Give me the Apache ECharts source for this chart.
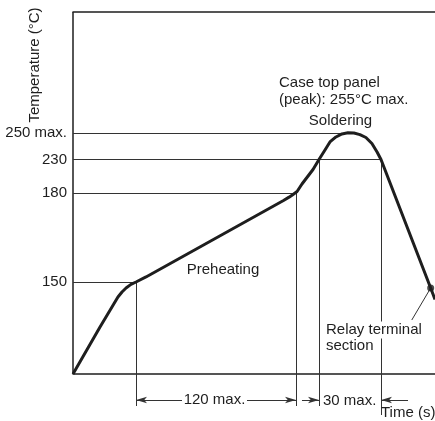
<!DOCTYPE html>
<html><head><meta charset="utf-8">
<script src="https://cdn.jsdelivr.net/npm/echarts@6/dist/echarts.min.js"></script>
<style>html,body{margin:0;padding:0;background:#fff}#c{width:435px;height:421px}</style>
</head><body><div id="c"></div>
<script>
// ---------------- data (seconds, °C) ----------------
const profileTime = [0, 19.3, 32.1, 35.0, 37.9, 41.4, 45, 52.5, 155.3, 159.8, 162.8, 165.7, 168.9, 176.1, 180, 182.9, 185.3, 188.2, 191.1, 194.0, 196.9, 199.8, 202.7, 205.6, 208.1, 210, 237.6, 240];
const profileTemp = [0, 76.6, 125.5, 133.7, 140.2, 146.2, 150, 151.7, 177.4, 178.6, 179.5, 182.2, 193.4, 215.1, 230, 237.3, 243.4, 247.2, 249.5, 250.2, 250.1, 249.0, 246.8, 242.2, 235.7, 230, 140.2, 121.5];
const tickTemps = [150, 180, 230, 250];
const tickLabels = ['150', '180', '230', '250 max.'];
const preheatStart = 45, preheatEnd = 165;   // 120 max.
const solderStart = 180, solderEnd = 210;    // 30 max.
const peakTime = 191;
const relayPoint = [237.6, 140.2];

// ---------------- schematic (non-linear) axis scales ----------------
const timeKnots = [0, 45, 165, 180, 210, 240];
const timeScale = [0, 63, 223, 246, 308, 362];
const tempKnots = [0, 150, 180, 230, 250, 300];
const tempScale = [0, 92, 181, 214.5, 240.7, 362];
function warp(v, ks, ss) {
  let i = 0;
  while (i < ks.length - 2 && v > ks[i + 1]) i++;
  return ss[i] + (v - ks[i]) * (ss[i + 1] - ss[i]) / (ks[i + 1] - ks[i]);
}
const X = t => warp(t, timeKnots, timeScale);
const Y = T => warp(T, tempKnots, tempScale);
const P = (t, T) => [X(t), Y(T)];

// annotation layout (axis scale units; negative = below the time axis)
const yMin = -47, yMax = 362;
const extLevel = -32, extLevelLong = -41, dimLevel = -26;
const relayLeaderEnd = [227.1, 88.0];
const dim120Gap = [79.5, 128.25];
const dim30Out = [168.9, 225];

const ink = '#1e1e1e';
const font = '"Liberation Sans", Arial, Helvetica, sans-serif';

function seg(a, b, sa, sb) {
  return [{coord: a, symbol: sa || 'none'}, {coord: b, symbol: sb || 'none'}];
}

const frame = [
  [{coord: [0, 0], symbol: 'none'}, {coord: [0, yMax], symbol: 'none'}]
];
const guides = [
  seg(P(0, 250), P(peakTime, 250)),
  seg(P(0, 230), P(solderEnd, 230)),
  seg(P(0, 180), P(preheatEnd, 180)),
  seg(P(0, 150), P(preheatStart, 150)),
  seg(P(preheatStart, 150), [X(preheatStart), extLevel]),
  seg(P(preheatEnd, 180), [X(preheatEnd), extLevel]),
  seg(P(solderStart, 230), [X(solderStart), extLevel]),
  seg(P(solderEnd, 230), [X(solderEnd), extLevelLong]),
  seg(P(relayPoint[0], relayPoint[1]), P(relayLeaderEnd[0], relayLeaderEnd[1])),
  seg([X(preheatStart), dimLevel], [X(dim120Gap[0]), dimLevel], 'arrow', 'none'),
  seg([X(dim120Gap[1]), dimLevel], [X(preheatEnd), dimLevel], 'none', 'arrow'),
  seg([X(dim30Out[0]), dimLevel], [X(solderStart), dimLevel], 'none', 'arrow'),
  seg([X(dim30Out[1]), dimLevel], [X(solderEnd), dimLevel], 'none', 'arrow')
];

const chart = echarts.init(document.getElementById('c'), null, {renderer: 'canvas'});
const txt = (text, x, y, align, extra, styleExtra) => Object.assign({
  type: 'text', x: x, y: y, z: 10,
  style: Object.assign({text: text, fill: ink, font: '15px ' + font, align: align || 'left', verticalAlign: 'middle'}, styleExtra || {})
}, extra || {});

chart.setOption({
  animation: false,
  grid: {left: 73, right: 0, top: 12, bottom: 0},
  xAxis: [
    {type: 'value', min: 0, max: 362, position: 'bottom',
     axisLine: {show: true, onZero: true, lineStyle: {color: ink, width: 1.5}},
     axisTick: {show: false}, axisLabel: {show: false}, splitLine: {show: false}},
    {type: 'value', min: 0, max: 362, position: 'top',
     axisLine: {show: true, onZero: false, lineStyle: {color: ink, width: 1.5}},
     axisTick: {show: false}, axisLabel: {show: false}, splitLine: {show: false}}
  ],
  yAxis: {
    type: 'value', min: yMin, max: yMax,
    axisLine: {show: false},
    axisTick: {show: false}, splitLine: {show: false},
    axisLabel: {
      show: true, margin: 6, color: ink, fontSize: 15, fontFamily: font,
      customValues: tickTemps.map(Y),
      formatter: v => {
        const i = tickTemps.findIndex(T => Math.abs(Y(T) - v) < 0.01);
        return i >= 0 ? tickLabels[i] : '';
      }
    }
  },
  series: [
    {
      type: 'line', name: 'frame', data: [], silent: true,
      markLine: {
        silent: true, animation: false, symbol: 'none', label: {show: false},
        lineStyle: {color: ink, width: 1.5, type: 'solid'},
        data: frame
      }
    },
    {
      type: 'line', name: 'guides', data: [], silent: true,
      markLine: {
        silent: true, animation: false, symbol: 'none', symbolSize: [5, 11],
        label: {show: false},
        lineStyle: {color: '#333', width: 1, type: 'solid'},
        data: guides
      }
    },
    {
      type: 'line', name: 'profile', z: 5,
      data: profileTime.map((t, i) => P(t, profileTemp[i])),
      symbol: 'none', lineStyle: {color: ink, width: 3}
    },
    {
      type: 'scatter', name: 'relay', z: 6,
      data: [P(relayPoint[0], relayPoint[1])],
      symbolSize: 7, itemStyle: {color: ink}
    }
  ],
  graphic: [
    txt('Temperature (°C)', 35, 65, 'center', {rotation: Math.PI / 2}),
    txt('Case top panel', 279, 83),
    txt('(peak): 255°C max.', 279, 100),
    txt('Soldering', 340.5, 121, 'center'),
    txt('Preheating', 223, 270, 'center'),
    txt('Relay terminal', 326, 330, 'left', null, {backgroundColor: '#fff', padding: [1, 0, 1, 0]}),
    txt('section', 326, 346),
    txt('120 max.', 214.5, 400, 'center'),
    txt('30 max.', 323, 401),
    txt('Time (s)', 381, 412.5)
  ]
});
</script>
</body></html>
